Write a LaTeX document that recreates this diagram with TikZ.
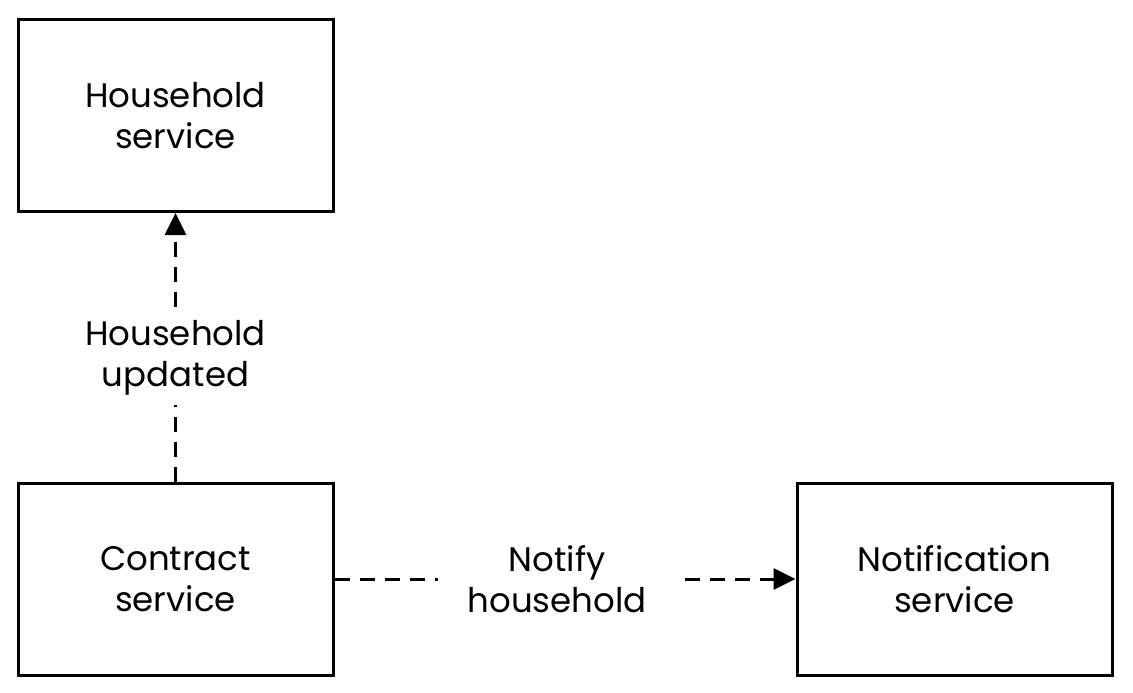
\documentclass[tikz,border=0pt]{standalone}
\usepackage{fontspec}
\setmainfont{Poppins}
\usetikzlibrary{arrows.meta}
\begin{document}
\begin{tikzpicture}[x=1pt,y=-1pt,
  box/.style={draw, line width=3pt, minimum width=315pt, minimum height=192pt, align=center, font=\fontsize{34}{41}\selectfont, inner sep=0pt},
  lbl/.style={fill=white, align=center, font=\fontsize{34}{41}\selectfont, inner xsep=30pt, inner ysep=10pt},
  conn/.style={line width=3pt, dash pattern=on 15pt off 10pt, -{Triangle[length=22pt,width=21pt]}}]
\useasboundingbox (0,0) rectangle (1133,693);
\node[box] (hh) at (175.5,115.5) {Household\\service};
\node[box] (ct) at (175.5,579) {Contract\\service};
\node[box] (nt) at (954.5,579) {Notification\\service};
\draw[conn] (ct.north) -- node[lbl, pos=0.46] (l1) {Household\\updated} (hh.south);
\draw[conn] (ct.east) -- node[lbl, pos=0.483] (l2) {Notify\\household} (nt.west);
\end{tikzpicture}
\end{document}
